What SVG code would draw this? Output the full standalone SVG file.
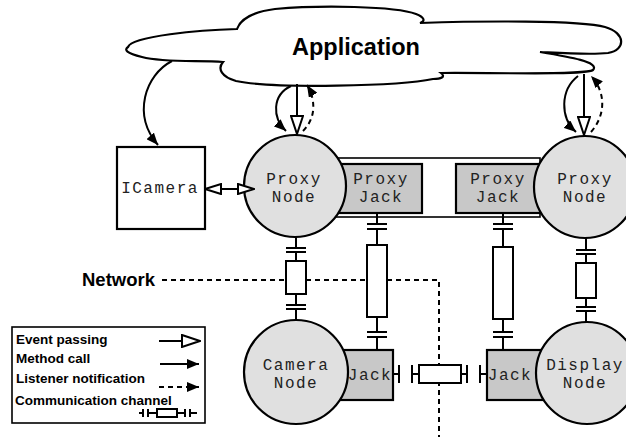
<svg xmlns="http://www.w3.org/2000/svg" width="626" height="440" viewBox="0 0 626 440">
<style>
.ln{fill:none;stroke:#000;stroke-width:2}
.dash{fill:none;stroke:#000;stroke-width:2;stroke-dasharray:5 4}
.node{fill:#e0e0e0;stroke:#000;stroke-width:2.2}
.jack{fill:#c8c8c8;stroke:#000;stroke-width:2.2}
.box{fill:#fff;stroke:#000;stroke-width:2.2}
.res{fill:#fff;stroke:#000;stroke-width:2}
.mono{font-family:"Liberation Mono","Courier New",monospace;font-size:16px;letter-spacing:1.5px;fill:#222;text-anchor:middle}
.lbl{font-family:"Liberation Sans",Arial,sans-serif;font-weight:bold;fill:#000}
.leg{font-family:"Liberation Sans",Arial,sans-serif;font-weight:bold;font-size:13.5px;fill:#000}
</style>
<defs>
<marker id="fill" viewBox="0 0 12 10" refX="12" refY="5" markerWidth="12" markerHeight="10" markerUnits="userSpaceOnUse" orient="auto"><path d="M0,0 L12,5 L0,10 Z" fill="#000"/></marker>
<marker id="hollow" viewBox="0 0 20 14" refX="19" refY="7" markerWidth="20" markerHeight="14" markerUnits="userSpaceOnUse" orient="auto-start-reverse"><path d="M1,1 L19,7 L1,13 Z" fill="#fff" stroke="#000" stroke-width="2"/></marker>
<marker id="hollowS" viewBox="0 0 18 12" refX="17" refY="6" markerWidth="18" markerHeight="12" markerUnits="userSpaceOnUse" orient="auto-start-reverse"><path d="M1,1 L17,6 L1,11 Z" fill="#fff" stroke="#000" stroke-width="2"/></marker>
</defs>

<!-- network boundary -->
<g id="network">
<path class="dash" d="M162,280 L439,280 L439,437"/>
<text class="lbl" x="82" y="286" font-size="18.5">Network</text>
</g>

<!-- Application cloud -->
<g id="application">
<path d="M128,47 C132,36 200,30 237,29 C240,20 252,12 275,9 C320,5 395,6 416,14 C424,17 426,21 420,23 C480,21 580,20 605,27 C626,33 626,50 608,53 C590,55 560,53 540,52 C570,57 600,62 593,70 C585,76 470,72 441,73 C446,77 441,79 433,79 C400,86 275,89 236,81 C222,77 217,69 223,62 C200,60 165,63 142,57 C126,53 124,50 128,47 Z" fill="#fff" stroke="#000" stroke-width="2.2"/>
<text class="lbl" x="356" y="55" font-size="23.5" text-anchor="middle">Application</text>
</g>

<!-- proxy jack enclosure -->
<g id="proxy-link">
<rect x="330" y="158" width="210" height="59" fill="#fff" stroke="#000" stroke-width="1.6"/>
</g>

<g id="proxy-jack-left">
<rect class="jack" x="330" y="164" width="92" height="49"/>
<text class="mono" x="381" y="184">Proxy</text>
<text class="mono" x="381" y="202">Jack</text>
</g>
<g id="proxy-jack-right">
<rect class="jack" x="456" y="164" width="90" height="49"/>
<text class="mono" x="498" y="184">Proxy</text>
<text class="mono" x="498" y="202">Jack</text>
</g>

<g id="icamera">
<rect class="box" x="117" y="147" width="88" height="82"/>
<text class="mono" x="160" y="193">ICamera</text>
</g>

<g id="proxy-node-left">
<circle class="node" cx="295" cy="186" r="51"/>
<text class="mono" x="294" y="184">Proxy</text>
<text class="mono" x="294" y="202">Node</text>
</g>
<g id="proxy-node-right">
<circle class="node" cx="585" cy="187" r="51"/>
<text class="mono" x="585" y="184">Proxy</text>
<text class="mono" x="585" y="202">Node</text>
</g>

<g id="camera-jack">
<rect class="jack" x="330" y="350" width="63" height="50"/>
<text class="mono" x="370" y="380">Jack</text>
</g>
<g id="display-jack">
<rect class="jack" x="487" y="350" width="60" height="50"/>
<text class="mono" x="510" y="380">Jack</text>
</g>

<g id="camera-node">
<circle class="node" cx="296" cy="372" r="52"/>
<text class="mono" x="296" y="370">Camera</text>
<text class="mono" x="296" y="388">Node</text>
</g>
<g id="display-node">
<circle class="node" cx="587" cy="373" r="51"/>
<text class="mono" x="585" y="370">Display</text>
<text class="mono" x="585" y="388">Node</text>
</g>

<g id="connectors">
<!-- app to ICamera -->
<path class="ln" d="M172,61 C145,75 132,115 158,145" marker-end="url(#fill)"/>
<!-- ICamera <-> proxy node -->
<line class="ln" x1="205" y1="189" x2="254" y2="189" marker-start="url(#hollowS)" marker-end="url(#hollowS)"/>
<!-- left proxy node arrows -->
<line class="ln" x1="297" y1="84" x2="297" y2="134" marker-end="url(#hollow)"/>
<path class="ln" d="M291,86 C272,95 272,118 286,131" marker-end="url(#fill)"/>
<path class="dash" d="M303,131 C316,118 316,100 307,85" marker-end="url(#fill)"/>
<!-- right proxy node arrows -->
<line class="ln" x1="584" y1="74" x2="584" y2="135" marker-end="url(#hollow)"/>
<path class="ln" d="M578,76 C560,90 560,118 576,132" marker-end="url(#fill)"/>
<path class="dash" d="M591,132 C606,115 606,92 591,76" marker-end="url(#fill)"/>

<!-- channel A: proxy node -> camera node -->
<g class="ch">
<path class="ln" d="M296,237 V248 M286,248 H306 M286,252 H306 M296,252 V261 M296,294 V305 M286,305 H306 M286,309 H306 M296,309 V321"/>
<rect class="res" x="286" y="261" width="20" height="33"/>
</g>
<!-- channel B: proxy jack -> camera jack -->
<g class="ch">
<path class="ln" d="M377,213 V224 M367,224 H387 M367,229 H387 M377,229 V245 M377,317 V332 M367,332 H387 M367,337 H387 M377,337 V350"/>
<rect class="res" x="367" y="245" width="20" height="72"/>
</g>
<!-- channel C: proxy jack -> display jack -->
<g class="ch">
<path class="ln" d="M503,213 V224 M493,224 H513 M493,229 H513 M503,229 V247 M503,319 V332 M493,332 H513 M493,337 H513 M503,337 V350"/>
<rect class="res" x="493" y="247" width="20" height="72"/>
</g>
<!-- channel D: proxy node -> display node -->
<g class="ch">
<path class="ln" d="M586,238 V250 M576,250 H596 M576,254 H596 M586,254 V263 M586,298 V307 M576,307 H596 M576,311 H596 M586,311 V322"/>
<rect class="res" x="576" y="263" width="20" height="35"/>
</g>
<!-- channel E: jack -> jack -->
<g class="ch">
<path class="ln" d="M393,374 H399 M399,365 V383 M412,365 V383 M412,374 H419 M461,374 H467 M467,365 V383 M480,365 V383 M480,374 H487"/>
<rect class="res" x="419" y="365" width="42" height="18"/>
</g>
</g>

<!-- legend -->
<g id="legend">
<rect x="12" y="327" width="193" height="96" fill="#fff" stroke="#000" stroke-width="1.6"/>
<text class="leg" x="16" y="344">Event passing</text>
<text class="leg" x="16" y="363">Method call</text>
<text class="leg" x="16" y="383">Listener notification</text>
<text class="leg" x="15" y="405">Communication channel</text>
<line class="ln" x1="159" y1="341" x2="200" y2="341" marker-end="url(#hollow)"/>
<line class="ln" x1="160" y1="364" x2="199" y2="364" marker-end="url(#fill)"/>
<line class="dash" x1="159" y1="387" x2="199" y2="387" marker-end="url(#fill)"/>
<path class="ln" d="M139,413 H143 M143,409 V417 M148,409 V417 M148,413 H157 M177,413 H185 M185,409 V417 M190,409 V417 M190,413 H197"/>
<rect class="res" x="157" y="409" width="20" height="8"/>
</g>
</svg>
